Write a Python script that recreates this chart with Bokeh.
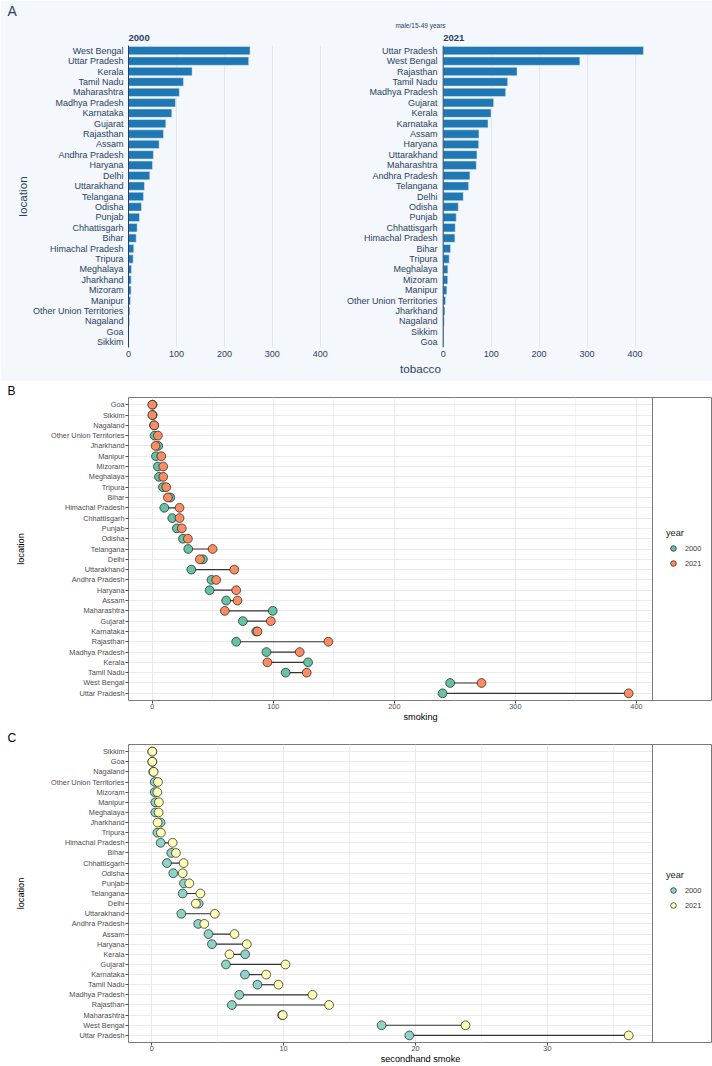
from bokeh.plotting import figure
from bokeh.models import (ColumnDataSource, FactorRange, Range1d, FixedTicker, Grid,
                          Span, Legend, LegendItem, LinearAxis, Title,
                          CustomJSTickFormatter)
from bokeh.layouts import column
from bokeh.embed import file_html
from bokeh.resources import INLINE
from bokeh.core.properties import value

FONT = "Liberation Sans"
NAVY = "#2a3f5f"

# ---------------- data ----------------
# Panel A: tobacco, male 15-49 years (top to bottom as displayed)
tobacco_2000_locations = ["West Bengal", "Uttar Pradesh", "Kerala", "Tamil Nadu", "Maharashtra",
                          "Madhya Pradesh", "Karnataka", "Gujarat", "Rajasthan", "Assam",
                          "Andhra Pradesh", "Haryana", "Delhi", "Uttarakhand", "Telangana",
                          "Odisha", "Punjab", "Chhattisgarh", "Bihar", "Himachal Pradesh",
                          "Tripura", "Meghalaya", "Jharkhand", "Mizoram", "Manipur",
                          "Other Union Territories", "Nagaland", "Goa", "Sikkim"]
tobacco_2000_values = [253.5, 250.7, 132.6, 114.6, 106.0, 97.9, 90.3, 77.8, 72.9, 63.9,
                       52.0, 50.0, 44.4, 33.3, 31.3, 27.0, 22.9, 18.0, 16.0, 11.0,
                       9.7, 6.3, 5.6, 5.4, 4.2, 2.8, 2.0, 0.6, 0.4]
tobacco_2021_locations = ["Uttar Pradesh", "West Bengal", "Rajasthan", "Tamil Nadu", "Madhya Pradesh",
                          "Gujarat", "Kerala", "Karnataka", "Assam", "Haryana", "Uttarakhand",
                          "Maharashtra", "Andhra Pradesh", "Telangana", "Delhi", "Odisha", "Punjab",
                          "Chhattisgarh", "Himachal Pradesh", "Bihar", "Tripura", "Meghalaya",
                          "Mizoram", "Manipur", "Other Union Territories", "Jharkhand", "Nagaland",
                          "Sikkim", "Goa"]
tobacco_2021_values = [417.6, 285.0, 154.0, 134.5, 130.3, 105.2, 99.7, 93.4, 74.6, 74.0, 70.4,
                       69.0, 55.7, 53.0, 41.8, 31.4, 27.2, 25.1, 24.4, 15.3, 12.5, 9.7,
                       9.5, 7.6, 4.9, 3.5, 2.1, 0.5, 0.3]
tobacco_ticks = [0, 100, 200, 300, 400]
tobacco_xmax = 440
tobacco_subtitles = ["2000", "2021"]

# Panel B: smoking
smoking_locations = ["Goa", "Sikkim", "Nagaland", "Other Union Territories", "Jharkhand", "Manipur",
                     "Mizoram", "Meghalaya", "Tripura", "Bihar", "Himachal Pradesh", "Chhattisgarh",
                     "Punjab", "Odisha", "Telangana", "Delhi", "Uttarakhand", "Andhra Pradesh",
                     "Haryana", "Assam", "Maharashtra", "Gujarat", "Karnataka", "Rajasthan",
                     "Madhya Pradesh", "Kerala", "Tamil Nadu", "West Bengal", "Uttar Pradesh"]
smoking_2000 = [0.2, 0.3, 1.4, 1.9, 4.9, 3.0, 4.6, 5.5, 8.8, 14.8, 9.9, 16.5, 20.3, 25.3, 29.7,
                41.8, 32.2, 48.9, 47.3, 61.0, 99.5, 74.8, 85.8, 69.3, 94.3, 128.7, 110.2,
                246.1, 239.8]
smoking_2021 = [0.0, 0.0, 1.6, 4.6, 2.7, 7.4, 9.0, 9.0, 11.5, 12.9, 22.5, 22.5, 24.4, 29.4, 49.8,
                39.3, 67.7, 52.8, 69.3, 70.4, 59.9, 97.9, 86.9, 145.5, 121.8, 95.1, 127.6,
                272.0, 393.6]
smoking_ticks = [0, 100, 200, 300, 400]
smoking_minor = [50, 150, 250, 350]

# Panel C: secondhand smoke
shs_locations = ["Sikkim", "Goa", "Nagaland", "Other Union Territories", "Mizoram", "Manipur",
                 "Meghalaya", "Jharkhand", "Tripura", "Himachal Pradesh", "Bihar", "Chhattisgarh",
                 "Odisha", "Punjab", "Telangana", "Delhi", "Uttarakhand", "Andhra Pradesh", "Assam",
                 "Haryana", "Kerala", "Gujarat", "Karnataka", "Tamil Nadu", "Madhya Pradesh",
                 "Rajasthan", "Maharashtra", "West Bengal", "Uttar Pradesh"]
shs_2000 = [0.05, 0.05, 0.12, 0.23, 0.23, 0.28, 0.28, 0.68, 0.43, 0.68, 1.49, 1.16, 1.64, 2.45,
            2.35, 3.56, 2.25, 3.53, 4.31, 4.57, 7.09, 5.63, 7.07, 8.02, 6.64, 6.08, 9.89,
            17.43, 19.53]
shs_2021 = [0.05, 0.05, 0.15, 0.48, 0.43, 0.55, 0.53, 0.45, 0.70, 1.59, 1.84, 2.42, 2.35, 2.85,
            3.69, 3.35, 4.79, 3.99, 6.28, 7.21, 5.90, 10.14, 8.68, 9.61, 12.19, 13.45, 9.94,
            23.79, 36.16]
shs_ticks = [0, 10, 20, 30]
shs_minor = [5, 15, 25, 35]

years = ["2000", "2021"]

# ---------------- style / layout constants ----------------
W = 712
LEFT = 128           # left border of every panel (frames are aligned)
BG = "#F4F7FB"
GRID = "#E1E7EF"

# ---------------- Panel A (two facets inside one frame) ----------------
A_H, A_TOP, A_FH = 381, 45, 302
A_FW = W - LEFT                  # frame spans to the right edge
SUB_W = 211.0                    # facet width in px
R_ZERO = 314.7                   # px from frame left to the right facet's zero
k = SUB_W / tobacco_xmax         # px per unit
off = R_ZERO / k                 # right facet zero, in left-facet units
SUB_TITLE_HALF = 10.6            # half width of a facet title, px

pA = figure(width=W, height=A_H, x_range=Range1d(0, A_FW / k),
            y_range=FactorRange(factors=tobacco_2000_locations[::-1]),
            output_backend="svg", toolbar_location=None,
            min_border_left=LEFT, min_border_right=0,
            min_border_top=A_TOP, min_border_bottom=A_H - A_TOP - A_FH,
            background_fill_color=BG, border_fill_color=BG, outline_line_color=None)
pA.extra_x_ranges = {"r": Range1d(-off, (A_FW - R_ZERO) / k)}
pA.extra_y_ranges = {"r": FactorRange(factors=tobacco_2021_locations[::-1])}

pA.xgrid.ticker = FixedTicker(ticks=tobacco_ticks[1:])
pA.xgrid.grid_line_color = GRID
pA.ygrid.grid_line_color = None
pA.add_layout(Grid(dimension=0, ticker=FixedTicker(ticks=tobacco_ticks[1:]),
                   x_range_name="r", grid_line_color=GRID))

srcA0 = ColumnDataSource(dict(loc=tobacco_2000_locations, val=tobacco_2000_values))
srcA1 = ColumnDataSource(dict(loc=tobacco_2021_locations, val=tobacco_2021_values))
pA.hbar(y="loc", left=0, right="val", height=0.8, source=srcA0,
        fill_color="#1F77B4", line_color="#E5ECF6", line_width=0.5)
pA.hbar(y="loc", left=0, right="val", height=0.8, source=srcA1,
        x_range_name="r", y_range_name="r",
        fill_color="#1F77B4", line_color="#E5ECF6", line_width=0.5)

# right facet category labels
lab_gap = 5.7 / k
pA.text(x=[-lab_gap] * len(tobacco_2021_locations), y=tobacco_2021_locations,
        text=tobacco_2021_locations, x_range_name="r", y_range_name="r",
        text_align="right", text_baseline="middle", text_font=value(FONT),
        text_font_size="9px", text_color=NAVY)
pA.add_layout(Span(location=0, dimension="height", x_range_name="r",
                   line_color=NAVY, line_width=1))

# bottom axis carrying both facets' ticks
xa = pA.xaxis[0]
xa.ticker = FixedTicker(ticks=tobacco_ticks + [off + t for t in tobacco_ticks])
xa.formatter = CustomJSTickFormatter(args=dict(off=off),
                                     code="const v = tick >= off - 1e-6 ? tick - off : tick; return v.toFixed(0);")
xa.bounds = (0, 526 / k)
xa.axis_line_color = None
xa.major_tick_line_color = None
xa.major_tick_out = 0
xa.major_tick_in = 0
xa.minor_tick_line_color = None
xa.minor_tick_out = 0
xa.major_label_standoff = 3
xa.major_label_text_font = FONT
xa.major_label_text_font_size = "9px"
xa.major_label_text_color = NAVY
xa.axis_label = "tobacco"
xa.axis_label_standoff = 2
xa.axis_label_text_font = FONT
xa.axis_label_text_font_size = "11.7px"
xa.axis_label_text_font_style = "normal"
xa.axis_label_text_color = NAVY

ya = pA.yaxis[0]
ya.axis_line_color = NAVY
ya.axis_line_width = 1
ya.major_tick_line_color = None
ya.major_tick_out = 0
ya.major_tick_in = 0
ya.minor_tick_line_color = None
ya.minor_tick_out = 0
ya.major_label_standoff = 5
ya.major_label_text_font = FONT
ya.major_label_text_font_size = "9px"
ya.major_label_text_color = NAVY
ya.axis_label = "location"
ya.axis_label_standoff = 1
ya.axis_label_text_font = FONT
ya.axis_label_text_font_size = "11.7px"
ya.axis_label_text_font_style = "normal"
ya.axis_label_text_color = NAVY

# top axis: facet titles and the subtitle
c_sub = (333.5 - LEFT) / k
top_ax = LinearAxis(ticker=FixedTicker(ticks=[SUB_TITLE_HALF / k, off + SUB_TITLE_HALF / k]),
                    formatter=CustomJSTickFormatter(args=dict(off=off, labels=tobacco_subtitles),
                                                    code="return tick < off / 2 ? labels[0] : labels[1];"),
                    bounds=(0, 2 * c_sub),
                    axis_line_color=None, major_tick_line_color=None, minor_tick_line_color=None,
                    major_tick_out=0, major_tick_in=0, minor_tick_out=0,
                    major_label_standoff=5, major_label_text_font=FONT,
                    major_label_text_font_size="9.5px", major_label_text_font_style="bold",
                    major_label_text_color=NAVY,
                    axis_label="male/15-49 years", axis_label_standoff=3,
                    axis_label_text_font=FONT, axis_label_text_font_size="6.5px",
                    axis_label_text_font_style="normal", axis_label_text_color=NAVY)
pA.add_layout(top_ax, "above")
pA.add_layout(Title(text="A", align="left", offset=7 - LEFT, standoff=0,
                    text_font=FONT, text_font_size="14px", text_font_style="normal",
                    text_color=NAVY), "above")


# ---------------- Panels B and C ----------------
def dumbbell_panel(locs, v0, v1, c0, c1, ticks, minor, height, top, bottom, xlabel, letter):
    lo = min(min(v0), min(v1))
    hi = max(max(v0), max(v1))
    pad = 0.05 * (hi - lo)
    x0, x1 = lo - pad, hi + pad
    data_w = 524.0                        # px of the ggplot panel
    fw = W - LEFT                         # frame spans to the right edge (legend inside)
    p = figure(width=W, height=height, x_range=Range1d(x0, x0 + (x1 - x0) * fw / data_w),
               y_range=FactorRange(factors=locs[::-1], range_padding=0.2,
                                   range_padding_units="absolute"),
               output_backend="svg", toolbar_location=None,
               min_border_left=LEFT, min_border_right=0,
               min_border_top=top, min_border_bottom=bottom,
               background_fill_color="white", border_fill_color="white",
               outline_line_color="#7a7a7a", outline_line_width=1)

    p.xgrid.grid_line_color = "#EBEBEB"
    p.xgrid.minor_grid_line_color = "#F3F3F3"
    # horizontal grid lines only across the panel (not under the legend)
    if "cross_bounds" in Grid.properties():
        p.ygrid.grid_line_color = "#EBEBEB"
        p.ygrid.cross_bounds = (x0, x1)
    else:
        p.ygrid.grid_line_color = None
        p.segment(x0=[x0] * len(locs), x1=[x1] * len(locs), y0=locs, y1=locs,
                  line_color="#EBEBEB", line_width=1, level="underlay")

    src = ColumnDataSource(dict(loc=locs, v0=v0, v1=v1))
    p.segment(x0="v0", y0="loc", x1="v1", y1="loc", source=src,
              line_color="#333333", line_width=1.2)
    r0 = p.scatter(x="v0", y="loc", source=src, size=8.8, fill_color=c0,
                   line_color="#1a1a1a", line_width=0.7)
    r1 = p.scatter(x="v1", y="loc", source=src, size=8.8, fill_color=c1,
                   line_color="#1a1a1a", line_width=0.7)
    p.add_layout(Span(location=x1, dimension="height", line_color="#7a7a7a", line_width=1))

    p.xaxis.ticker = FixedTicker(ticks=ticks, minor_ticks=minor)
    p.xaxis.bounds = (x0, x1)
    for ax in (p.xaxis, p.yaxis):
        ax.axis_line_color = None
        ax.major_tick_line_color = "#4d4d4d"
        ax.major_tick_out = 3
        ax.major_tick_in = 0
        ax.minor_tick_line_color = None
        ax.minor_tick_out = 0
        ax.major_label_text_font = FONT
        ax.major_label_text_font_size = "7.3px"
        ax.major_label_text_color = "#4d4d4d"
        ax.axis_label_text_font = FONT
        ax.axis_label_text_font_size = "9.2px"
        ax.axis_label_text_font_style = "normal"
        ax.axis_label_text_color = "black"
    p.xaxis.major_label_standoff = 0
    p.yaxis.major_label_standoff = 1
    p.xaxis.axis_label = xlabel
    p.xaxis.axis_label_standoff = 0
    p.yaxis.axis_label = "location"
    p.yaxis.axis_label_standoff = 22

    legend = Legend(items=[LegendItem(label=years[0], renderers=[r0]),
                           LegendItem(label=years[1], renderers=[r1])],
                    title="year", location=(666 - LEFT, 130),
                    title_text_font=FONT, title_text_font_size="9.2px",
                    title_text_font_style="normal", title_text_color="#1a1a1a",
                    title_standoff=3,
                    label_text_font=FONT, label_text_font_size="7.3px",
                    label_text_color="#333333",
                    glyph_width=14, glyph_height=14, label_height=14, label_standoff=5,
                    spacing=1, padding=0, margin=0,
                    border_line_color=None, background_fill_alpha=0)
    p.add_layout(legend)

    p.add_layout(Title(text=letter, align="left", offset=7 - LEFT, standoff=0,
                       text_font=FONT, text_font_size="12px", text_font_style="normal",
                       text_color="black"), "above")
    return p


pB = dumbbell_panel(smoking_locations, smoking_2000, smoking_2021, "#66C2A5", "#FC8D62",
                    smoking_ticks, smoking_minor, height=347, top=15, bottom=28,
                    xlabel="smoking", letter="B")
pC = dumbbell_panel(shs_locations, shs_2000, shs_2021, "#8DD3C7", "#FFFFB3",
                    shs_ticks, shs_minor, height=338, top=13, bottom=22,
                    xlabel="secondhand smoke", letter="C")

layout = column(pA, pB, pC, spacing=0)
open("out.html", "w").write(file_html(layout, INLINE))
